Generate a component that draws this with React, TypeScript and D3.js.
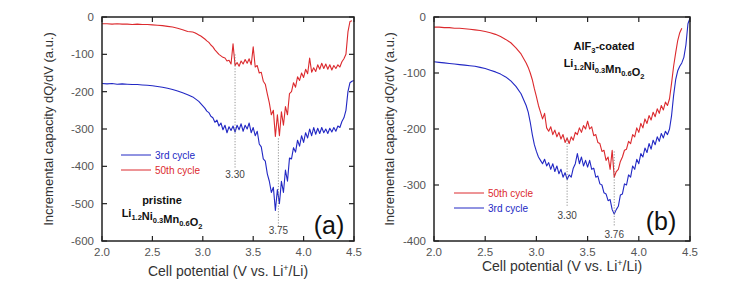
import * as d3 from "d3";
import React from "react";

// voltage grid (V vs. Li+/Li), shared by all four traces
const volts = [
  2.0, 2.05, 2.1, 2.15, 2.2, 2.25, 2.3, 2.35, 2.4, 2.45, 2.5, 2.55, 2.6, 2.65, 2.7, 2.75, 2.8, 2.85,
  2.9, 2.92, 2.94, 2.96, 2.98, 3.0, 3.02, 3.04, 3.06, 3.08,
  3.1, 3.12, 3.14, 3.16, 3.18, 3.2, 3.22, 3.24, 3.26, 3.28,
  3.3, 3.32, 3.34, 3.36, 3.38, 3.4, 3.42, 3.44, 3.46, 3.48,
  3.5, 3.52, 3.54, 3.56, 3.58, 3.6, 3.62, 3.64, 3.66, 3.68,
  3.7, 3.72, 3.74, 3.76, 3.78, 3.8, 3.82, 3.84, 3.86, 3.88,
  3.9, 3.92, 3.94, 3.96, 3.98, 4.0, 4.02, 4.04, 4.06, 4.08,
  4.1, 4.12, 4.14, 4.16, 4.18, 4.2, 4.22, 4.24, 4.26, 4.28,
  4.3, 4.32, 4.34, 4.36, 4.38, 4.4, 4.42, 4.44, 4.46, 4.48,
  4.5,
];

// (a) pristine
const pristine50th = [
  -18, -18, -19, -18, -19, -19, -20, -19, -20, -20, -21, -22, -23, -25, -27, -30, -34, -39,
  -40, -42, -45, -48, -51, -55, -59, -64, -68, -75,
  -80, -88, -94, -100, -104, -108, -110, -118, -116, -126,
  -72, -130, -122, -132, -118, -126, -114, -124, -112, -128,
  -80, -134, -130, -150, -148, -172, -180, -206, -230, -262,
  -250, -320, -262, -318, -254, -290, -240, -262, -205, -200,
  -176, -188, -160, -170, -150, -162, -140, -152, -110, -148,
  -136, -146, -128, -140, -124, -138, -126, -140, -128, -142,
  -130, -138, -128, -134, -120, -112, -100, -40, -12, -10,
  null,
];
const pristine3rd = [
  -178, -179, -178, -180, -179, -180, -181, -181, -182, -183, -184, -186, -188, -191, -194, -198, -203, -208,
  -214, -218, -222, -226, -232, -238, -244, -252, -256, -266,
  -270, -282, -276, -292, -284, -302, -290, -310, -294, -304,
  -292, -308, -290, -302, -286, -306, -290, -300, -284, -310,
  -296, -318, -306, -340, -348, -380, -386, -420, -440, -470,
  -456, -518, -462, -500, -440, -470, -410, -440, -378, -380,
  -350, -362, -330, -346, -318, -336, -310, -324, -300, -318,
  -296, -314, -298, -312, -296, -310, -300, -312, -298, -308,
  -296, -306, -292, -296, -280, -270, -250, -200, -176, -172,
  -170,
];

// (b) AlF3-coated
const coated50th = [
  -18, -18, -19, -19, -20, -20, -21, -22, -23, -24, -26, -28, -31, -35, -40, -46, -55, -66,
  -82, -90, -100, -112, -128, -142, -158, -170, -182, -172,
  -198, -204, -196, -210, -202, -214, -206, -218, -210, -224,
  -216, -226, -214, -220, -206, -210, -198, -206, -194, -200,
  -186, -200, -196, -212, -210, -224, -226, -240, -238, -256,
  -250, -272, -238, -286, -276, -272, -258, -250, -238, -236,
  -222, -226, -210, -214, -198, -206, -190, -198, -182, -190,
  -176, -184, -170, -178, -164, -172, -158, -166, -152, -158,
  -146, -118, -88, -64, -42, -28, -20, null, null, null,
  null,
];
const coated3rd = [
  -80, -81, -82, -83, -84, -85, -86, -87, -88, -90, -92, -95, -98, -102, -107, -114, -124, -137,
  -158, -170, -188, -210, -228, -240, -250, -256, -262, -254,
  -266, -260, -272, -262, -276, -266, -280, -272, -286, -278,
  -290, -282, -286, -270, -262, -244, -262, -250, -266, -256,
  -268, -256, -272, -270, -286, -284, -298, -300, -314, -316,
  -328, -326, -344, -352, -344, -338, -318, -316, -298, -300,
  -282, -286, -266, -272, -254, -262, -244, -250, -234, -242,
  -226, -236, -220, -228, -214, -222, -208, -216, -204, -210,
  -200, -176, -140, -112, -96, -88, -82, -72, -50, -12,
  -2,
];

const voltTicks = [2.0, 2.5, 3.0, 3.5, 4.0, 4.5];
const pristineTicks = [0, -100, -200, -300, -400, -500, -600];
const coatedTicks = [0, -100, -200, -300, -400];

const RED = "#dc2a2e";
const BLUE = "#2228c4";
const FONT = "'Liberation Sans', Arial, sans-serif";

type Trace = { name: string; values: (number | null)[]; color: string };

function Formula({ x, y }: { x: number; y: number }) {
  const sub = (t: string) => (
    <>
      <tspan dy={3} fontSize={7.5}>{t}</tspan>
      <tspan dy={-3}></tspan>
    </>
  );
  return (
    <text x={x} y={y} textAnchor="middle" fontSize={11} fontWeight="bold" fill="#111" fontFamily={FONT}>
      Li{sub("1.2")}Ni{sub("0.3")}Mn{sub("0.6")}O{sub("2")}
    </text>
  );
}

function Panel(props: {
  x0: number; x1: number; y0: number; y1: number;
  yDomain: [number, number]; yTicks: number[];
  traces: Trace[]; drawOrder: Trace[];
  legendY: number; legendX: number;
  peaks: { v: number; from: number; to: number; label: string; labelY: number }[];
  tag: string; tagX: number; tagY: number;
  yTitleX: number; xTitleY: number;
  children?: React.ReactNode;
}) {
  const { x0, x1, y0, y1 } = props;
  const x = d3.scaleLinear().domain([2, 4.5]).range([x0, x1]);
  const y = d3.scaleLinear().domain(props.yDomain).range([y1, y0]);
  const line = d3
    .line<number | null>()
    .defined((d) => d !== null)
    .x((_, i) => x(volts[i]))
    .y((d) => y(d as number));

  return (
    <g fontFamily={FONT}>
      {props.drawOrder.map((t) => (
        <path key={t.name} d={line(t.values) || ""} fill="none" stroke={t.color} strokeWidth={1.1} strokeLinejoin="round" />
      ))}
      {props.peaks.map((p) => (
        <g key={p.label}>
          <line x1={x(p.v)} x2={x(p.v)} y1={y(p.from)} y2={y(p.to)} stroke="#777" strokeWidth={0.8} strokeDasharray="1.2,1.6" />
          <text x={x(p.v)} y={p.labelY} textAnchor="middle" fontSize={10} fill="#444">{p.label}</text>
        </g>
      ))}
      <rect x={x0} y={y0} width={x1 - x0} height={y1 - y0} fill="none" stroke="#222" strokeWidth={1.5} />
      {voltTicks.map((v) => (
        <g key={v}>
          <line x1={x(v)} x2={x(v)} y1={y1} y2={y1 - 5} stroke="#222" strokeWidth={1.2} />
          <line x1={x(v)} x2={x(v)} y1={y0} y2={y0 + 5} stroke="#222" strokeWidth={1.2} />
          <text x={x(v)} y={y1 + 15} textAnchor="middle" fontSize={11.5} fill="#555">{v.toFixed(1)}</text>
        </g>
      ))}
      {props.yTicks.map((v) => (
        <g key={v}>
          <line x1={x0} x2={x0 + 5} y1={y(v)} y2={y(v)} stroke="#222" strokeWidth={1.2} />
          <line x1={x1} x2={x1 - 5} y1={y(v)} y2={y(v)} stroke="#222" strokeWidth={1.2} />
          <text x={x0 - 8} y={y(v) + 4} textAnchor="end" fontSize={11.5} fill="#555">{v}</text>
        </g>
      ))}
      {props.traces.map((t, i) => (
        <g key={t.name} transform={`translate(${props.legendX},${props.legendY + i * 15})`}>
          <line x1={0} x2={30} y1={0} y2={0} stroke={t.color} strokeWidth={1} />
          <text x={34} y={4} fontSize={10} fill={t.color}>{t.name}</text>
        </g>
      ))}
      <text x={props.tagX} y={props.tagY} textAnchor="middle" fontSize={25} fill="#111">{props.tag}</text>
      <text
        transform={`translate(${props.yTitleX},${(y0 + y1) / 2}) rotate(-90)`}
        textAnchor="middle" fontSize={13} fill="#333"
      >
        Incremental capacity dQ/dV (a.u.)
      </text>
      <text x={(x0 + x1) / 2} y={props.xTitleY} textAnchor="middle" fontSize={14} fill="#333">
        Cell potential (V vs. Li<tspan dy={-5} fontSize={9}>+</tspan><tspan dy={5}>/Li)</tspan>
      </text>
      {props.children}
    </g>
  );
}

export default function App() {
  const p3 = { name: "3rd cycle", values: pristine3rd, color: BLUE };
  const p50 = { name: "50th cycle", values: pristine50th, color: RED };
  const c3 = { name: "3rd cycle", values: coated3rd, color: BLUE };
  const c50 = { name: "50th cycle", values: coated50th, color: RED };
  return (
    <svg width={742} height={293} style={{ position: "absolute", left: 0, top: 0, background: "#fff" }}>
      <Panel
        x0={102} x1={354} y0={17} y1={241}
        yDomain={[-600, 0]} yTicks={pristineTicks}
        traces={[p3, p50]} drawOrder={[p3, p50]}
        legendX={121} legendY={155}
        peaks={[
          { v: 3.32, from: -100, to: -405, label: "3.30", labelY: 178 },
          { v: 3.75, from: -325, to: -560, label: "3.75", labelY: 234 },
        ]}
        tag="(a)" tagX={329} tagY={234}
        yTitleX={53} xTitleY={276}
      >
        <text x={162} y={204} textAnchor="middle" fontSize={11} fontWeight="bold" fill="#111" fontFamily={FONT}>pristine</text>
        <Formula x={162} y={217} />
      </Panel>
      <Panel
        x0={434} x1={690} y0={17} y1={241}
        yDomain={[-400, 0]} yTicks={coatedTicks}
        traces={[c50, c3]} drawOrder={[c3, c50]}
        legendX={454} legendY={193}
        peaks={[
          { v: 3.3, from: -215, to: -340, label: "3.30", labelY: 219 },
          { v: 3.76, from: -240, to: -375, label: "3.76", labelY: 238 },
        ]}
        tag="(b)" tagX={661} tagY={230}
        yTitleX={394} xTitleY={271}
      >
        <text x={604} y={50} textAnchor="middle" fontSize={11} fontWeight="bold" fill="#111" fontFamily={FONT}>
          AlF<tspan dy={3} fontSize={7.5}>3</tspan><tspan dy={-3}>-coated</tspan>
        </text>
        <Formula x={604} y={67} />
      </Panel>
    </svg>
  );
}
